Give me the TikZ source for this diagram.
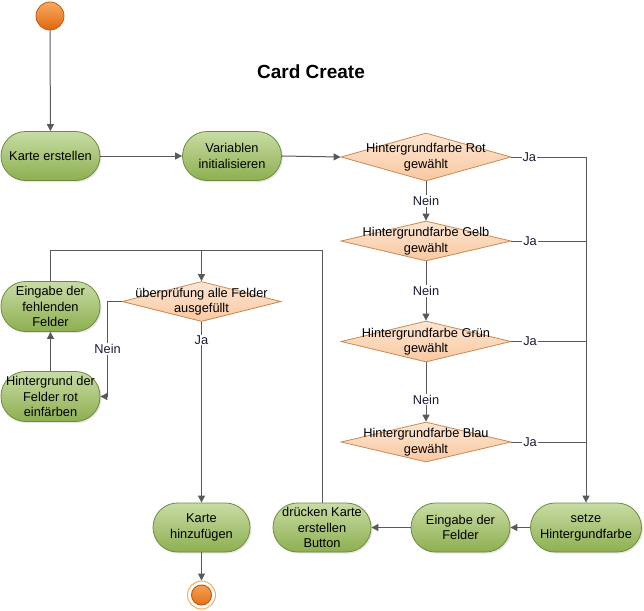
\documentclass[tikz,border=0pt]{standalone}
\usepackage{fontspec}
\setmainfont{Liberation Sans}
\usepackage{tikz}
\usetikzlibrary{arrows.meta,shapes.geometric,shadows}
\definecolor{line}{HTML}{595959}
\definecolor{gtop}{HTML}{C8DCA4}
\definecolor{gbot}{HTML}{8DAF50}
\definecolor{gedge}{HTML}{6E8B3D}
\definecolor{dtop}{HTML}{FDE6D4}
\definecolor{dbot}{HTML}{F9C8A0}
\definecolor{dedge}{HTML}{C98A52}
\definecolor{otop}{HTML}{F9AA60}
\definecolor{obot}{HTML}{E0670C}
\definecolor{oedge}{HTML}{C25A12}
\definecolor{labc}{HTML}{1A1A3A}
\tikzset{
  base/.style={draw=line, line width=1pt},
  arr/.style={base, -{Triangle[length=7pt,width=7pt]}},
  act/.style={rounded corners=24.5pt, minimum width=99pt, minimum height=49pt,
    inner sep=0pt, draw=gedge, line width=0.8pt, top color=gtop, bottom color=gbot,
    align=center, font=\fontsize{12.8}{15.5}\selectfont,
    drop shadow={opacity=0.2, shadow xshift=1.5pt, shadow yshift=-1.5pt}},
  dec/.style={diamond, draw=dedge, line width=0.8pt, top color=dtop, bottom color=dbot,
    inner sep=0pt, minimum width=170pt, minimum height=48pt},
  dtxt/.style={align=center, inner sep=0pt, font=\fontsize{12.8}{15.5}\selectfont},
  lab/.style={fill=white, inner sep=1pt, text=labc, font=\fontsize{12.8}{14}\selectfont},
  start/.style={circle, minimum size=28pt, inner sep=0pt, draw=oedge, line width=0.8pt,
    top color=otop, bottom color=obot},
  ende/.style={circle, minimum size=28pt, inner sep=0pt, draw=otop, line width=1pt, fill=white,
    path picture={\shade[top color=otop, bottom color=obot, draw=oedge]
      (path picture bounding box.center) circle (10pt);}},
}
\begin{document}
\begin{tikzpicture}[x=1pt, y=-1pt]
  \useasboundingbox (0,0) rectangle (644,610);

  \node[font=\fontsize{19}{22}\selectfont\bfseries] (titel) at (311,72) {Card Create};

  \node[start] (anfang) at (50,16) {};
  \node[act] (erstellen) at (50.5,156) {Karte erstellen};
  \node[act] (init) at (232,156) {Variablen\\initialisieren};

  % Entscheidungen Hintergrundfarbe
  \node[dec, label={[dtxt]center:Hintergrundfarbe Rot\\gewählt}] (rot) at (426,157) {};
  \node[dec, minimum height=40pt, label={[dtxt]center:Hintergrundfarbe Gelb\\gewählt}] (gelb) at (426,241) {};
  \node[dec, minimum height=41pt, label={[dtxt]center:Hintergrundfarbe Grün\\gewählt}] (gruen) at (426,341.5) {};
  \node[dec, minimum height=40pt, label={[dtxt]center:Hintergrundfarbe Blau\\gewählt}] (blau) at (426,442) {};

  \node[act, minimum width=111pt] (setze) at (586,527.5) {setze\\Hintergundfarbe};
  \node[act] (eingabe) at (460.5,527.5) {Eingabe der\\Felder};
  \node[act, minimum width=98pt] (druecken) at (322,527.5) {drücken Karte\\erstellen\\Button};
  \node[act, minimum width=97pt] (hinzu) at (201.5,527.5) {Karte\\hinzufügen};
  \node[ende] (ende) at (201.5,595) {};

  % Pruefung
  \node[dec, minimum width=159pt, minimum height=40pt,
    label={[dtxt]center:überprüfung alle Felder\\ausgefüllt}] (check) at (201.5,301.5) {};
  \node[act, minimum height=50pt] (fehlen) at (50.5,306.5) {Eingabe der\\fehlenden\\Felder};
  \node[act, minimum height=50pt] (faerben) at (50.5,396.5) {Hintergrund der\\Felder rot\\einfärben};
  \coordinate (knick) at (201.5,250);

  \draw[arr] (anfang) -- (erstellen);
  \draw[arr] (erstellen) -- (init);
  \draw[arr] (init.east) -- (rot.west);
  \draw[arr] (rot) -- node[lab]{Nein} (gelb);
  \draw[arr] (gelb) -- node[lab]{Nein} (gruen);
  \draw[arr] (gruen) -- node[lab, pos=0.63]{Nein} (blau);

  \draw[arr] (rot.east) -| node[lab, pos=0.12]{Ja} (setze.north);
  \draw[base] (gelb.east) -- node[lab, pos=0.25]{Ja} (gelb.east -| setze.north);
  \draw[base] (gruen.east) -- node[lab, pos=0.25]{Ja} (gruen.east -| setze.north);
  \draw[base] (blau.east) -- node[lab, pos=0.25]{Ja} (blau.east -| setze.north);

  \draw[arr] (setze) -- (eingabe);
  \draw[arr] (eingabe) -- (druecken);
  \draw[arr] (druecken.north) |- (knick) -- (check.north);
  \draw[base] (fehlen.north) |- (knick);

  \draw[arr] (check.west) -- ++(-14,0) |- node[lab, pos=0.25]{Nein} (faerben.east);
  \draw[arr] (faerben) -- (fehlen);
  \draw[arr] (check) -- node[lab, pos=0.1]{Ja} (hinzu);
  \draw[arr] (hinzu) -- (ende);
\end{tikzpicture}
\end{document}
